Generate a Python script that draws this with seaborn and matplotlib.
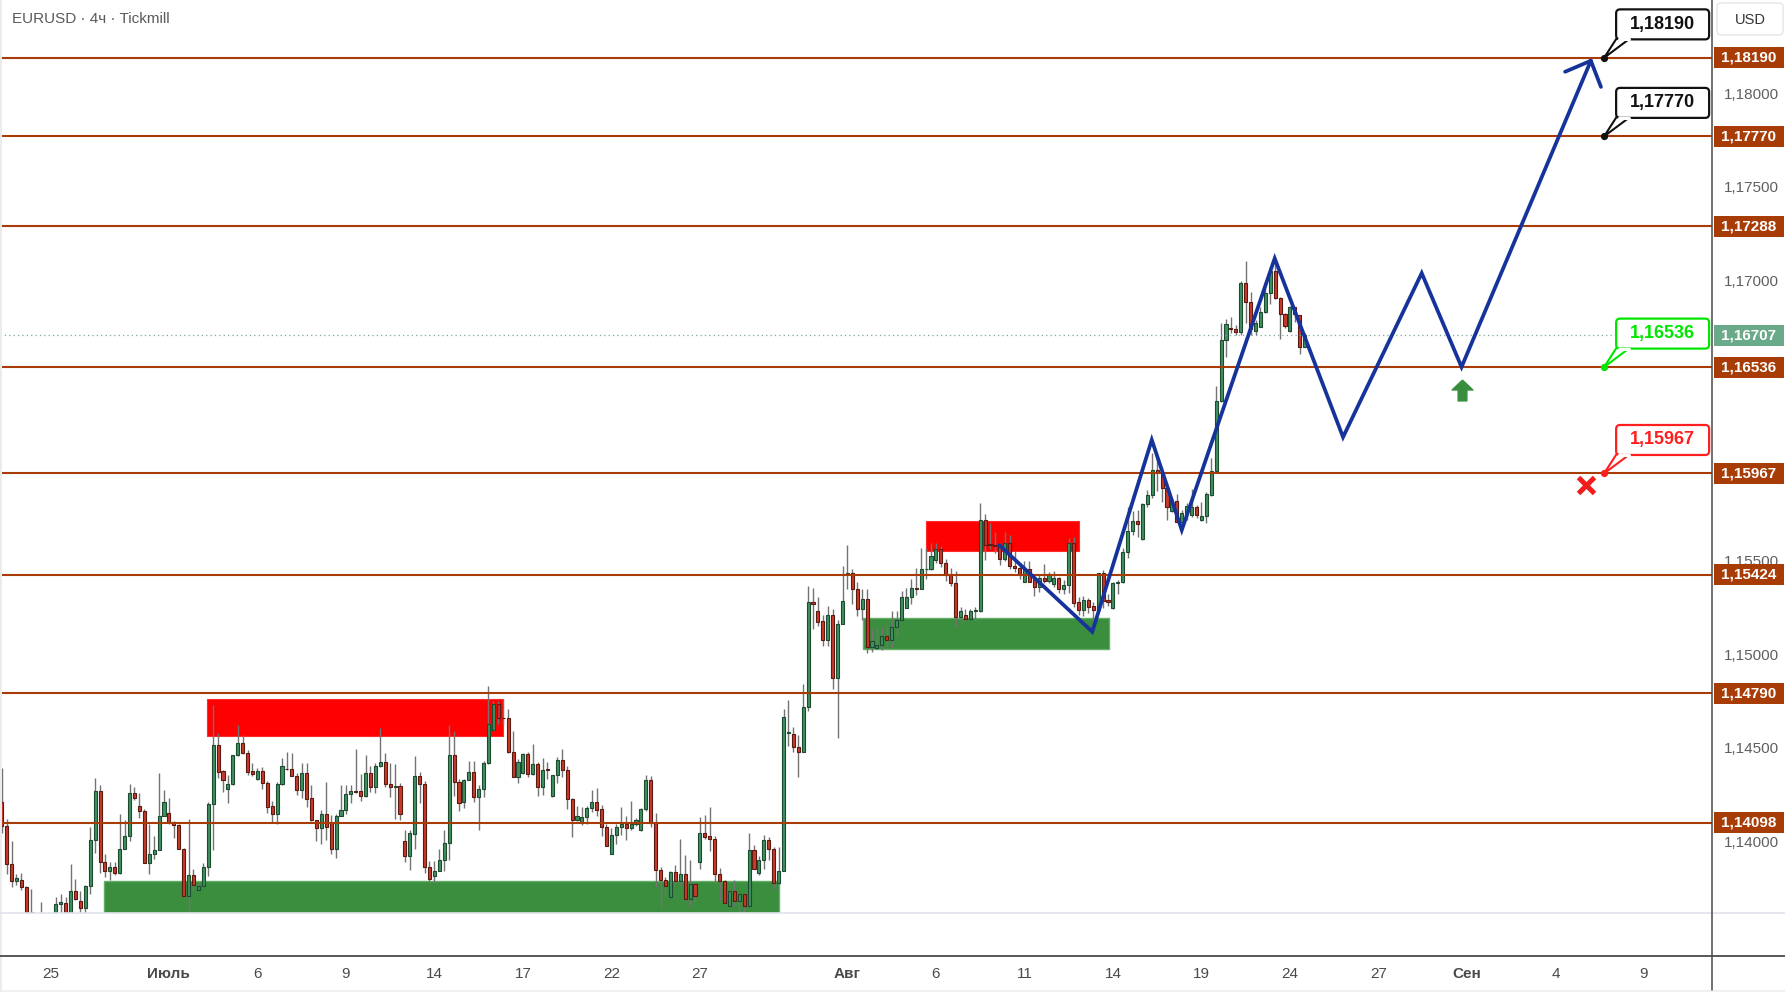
import numpy as np
import pandas as pd
import matplotlib
matplotlib.use("Agg")
import matplotlib.pyplot as plt
import matplotlib.transforms as mtrans
from matplotlib.patches import Rectangle, FancyBboxPatch, Polygon
from matplotlib.lines import Line2D
from matplotlib.path import Path
import seaborn as sns

# ---------------- data (EURUSD 4h candles) ----------------
opens = [
    1.14207, 1.14080, 1.13880, 1.13788, 1.13790, 1.13756, 1.13622, 1.13570, 1.13550, 1.13580,
    1.13560, 1.13560, 1.13665, 1.13670, 1.13590, 1.13735, 1.13681, 1.13642, 1.13761, 1.14008,
    1.14266, 1.13889, 1.13838, 1.13864, 1.13829, 1.13960, 1.14025, 1.14256, 1.14186, 1.14159,
    1.13885, 1.13930, 1.13955, 1.14137, 1.14148, 1.14100, 1.14084, 1.13960, 1.13708, 1.13821,
    1.13740, 1.13761, 1.13862, 1.14196, 1.14513, 1.14374, 1.14277, 1.14304, 1.14460, 1.14524,
    1.14470, 1.14374, 1.14331, 1.14374, 1.14309, 1.14186, 1.14146, 1.14304, 1.14385, 1.14384,
    1.14350, 1.14275, 1.14363, 1.14230, 1.14111, 1.14071, 1.14143, 1.14098, 1.13958, 1.14137,
    1.14166, 1.14250, 1.14266, 1.14266, 1.14243, 1.14365, 1.14288, 1.14401, 1.14422, 1.14304,
    1.14290, 1.14293, 1.14003, 1.13921, 1.14040, 1.14347, 1.14304, 1.13862, 1.13813, 1.13842,
    1.13901, 1.13992, 1.14460, 1.14315, 1.14207, 1.14327, 1.14368, 1.14238, 1.14277, 1.14417,
    1.14592, 1.14733, 1.14658, 1.14656, 1.14476, 1.14345, 1.14363, 1.14467, 1.14358, 1.14411,
    1.14288, 1.14384, 1.14243, 1.14352, 1.14435, 1.14379, 1.14223, 1.14114, 1.14100, 1.14127,
    1.14177, 1.14207, 1.14170, 1.14078, 1.13933, 1.14035, 1.14078, 1.14093, 1.14071, 1.14091,
    1.14060, 1.14170, 1.14327, 1.14098, 1.13847, 1.13794, 1.13702, 1.13837, 1.13788, 1.13826,
    1.13690, 1.13772, 1.13889, 1.14041, 1.14026, 1.14014, 1.13826, 1.13786, 1.13652, 1.13735,
    1.13681, 1.13718, 1.13654, 1.13955, 1.13829, 1.13901, 1.14008, 1.13960, 1.13778, 1.13842,
    1.14578, 1.14575, 1.14504, 1.14477, 1.14720, 1.15281, 1.15233, 1.15175, 1.15076, 1.15212,
    1.14873, 1.15164, 1.15429, 1.15436, 1.15346, 1.15239, 1.15297, 1.15041, 1.15033, 1.15051,
    1.15099, 1.15078, 1.15144, 1.15185, 1.15249, 1.15308, 1.15356, 1.15349, 1.15453, 1.15453,
    1.15506, 1.15560, 1.15488, 1.15426, 1.15381, 1.15199, 1.15208, 1.15190, 1.15230, 1.15230,
    1.15720, 1.15586, 1.15584, 1.15580, 1.15511, 1.15592, 1.15474, 1.15463, 1.15387, 1.15458,
    1.15403, 1.15360, 1.15408, 1.15393, 1.15375, 1.15406, 1.15349, 1.15368, 1.15593, 1.15278,
    1.15234, 1.15290, 1.15257, 1.15236, 1.15432, 1.15290, 1.15245, 1.15382, 1.15384, 1.15548,
    1.15659, 1.15712, 1.15616, 1.15803, 1.15850, 1.15985, 1.15973, 1.15887, 1.15768, 1.15820,
    1.15709, 1.15757, 1.15743, 1.15789, 1.15718, 1.15739, 1.15852, 1.15980, 1.16354, 1.16680,
    1.16746, 1.16739, 1.16725, 1.16984, 1.16882, 1.16730, 1.16752, 1.16828, 1.16930, 1.17050,
    1.16903, 1.16818, 1.16730, 1.16855, 1.16812, 1.16645,
]
highs = [
    1.14390, 1.14121, 1.14000, 1.13822, 1.13831, 1.13760, 1.13745, 1.13600, 1.13677, 1.13600,
    1.13590, 1.13700, 1.13718, 1.13700, 1.13876, 1.13799, 1.13735, 1.13765, 1.14075, 1.14336,
    1.14300, 1.13930, 1.13889, 1.13889, 1.14145, 1.14112, 1.14306, 1.14290, 1.14259, 1.14170,
    1.14094, 1.14026, 1.14365, 1.14273, 1.14232, 1.14107, 1.14091, 1.13962, 1.14118, 1.13853,
    1.13772, 1.13883, 1.14211, 1.14730, 1.14578, 1.14381, 1.14354, 1.14462, 1.14622, 1.14569,
    1.14488, 1.14417, 1.14392, 1.14395, 1.14322, 1.14214, 1.14316, 1.14443, 1.14479, 1.14472,
    1.14363, 1.14418, 1.14418, 1.14300, 1.14113, 1.14166, 1.14316, 1.14141, 1.14143, 1.14300,
    1.14298, 1.14298, 1.14494, 1.14359, 1.14461, 1.14402, 1.14417, 1.14606, 1.14472, 1.14417,
    1.14413, 1.14311, 1.14059, 1.14059, 1.14456, 1.14370, 1.14322, 1.13892, 1.13892, 1.13960,
    1.14059, 1.14622, 1.14590, 1.14333, 1.14334, 1.14426, 1.14426, 1.14298, 1.14426, 1.14828,
    1.14748, 1.14748, 1.14762, 1.14708, 1.14590, 1.14440, 1.14469, 1.14479, 1.14520, 1.14424,
    1.14443, 1.14424, 1.14354, 1.14451, 1.14494, 1.14402, 1.14232, 1.14188, 1.14182, 1.14188,
    1.14273, 1.14284, 1.14191, 1.14094, 1.14068, 1.14094, 1.14182, 1.14134, 1.14214, 1.14123,
    1.14177, 1.14354, 1.14347, 1.14150, 1.13860, 1.13806, 1.13840, 1.13871, 1.14010, 1.13924,
    1.13901, 1.13779, 1.14128, 1.14139, 1.14182, 1.14030, 1.13858, 1.13794, 1.13737, 1.13794,
    1.13720, 1.13720, 1.14046, 1.13978, 1.13919, 1.14032, 1.14021, 1.13967, 1.13969, 1.14708,
    1.14753, 1.14609, 1.14566, 1.14839, 1.15362, 1.15353, 1.15305, 1.15208, 1.15256, 1.15244,
    1.15185, 1.15470, 1.15583, 1.15453, 1.15385, 1.15347, 1.15347, 1.15140, 1.15144, 1.15144,
    1.15164, 1.15230, 1.15230, 1.15337, 1.15353, 1.15401, 1.15463, 1.15567, 1.15567, 1.15592,
    1.15593, 1.15579, 1.15511, 1.15463, 1.15444, 1.15253, 1.15240, 1.15240, 1.15253, 1.15809,
    1.15750, 1.15700, 1.15652, 1.15592, 1.15652, 1.15636, 1.15551, 1.15485, 1.15497, 1.15497,
    1.15431, 1.15426, 1.15481, 1.15441, 1.15445, 1.15415, 1.15397, 1.15623, 1.15629, 1.15307,
    1.15311, 1.15299, 1.15281, 1.15436, 1.15450, 1.15322, 1.15388, 1.15397, 1.15566, 1.15789,
    1.15768, 1.15771, 1.15807, 1.15878, 1.16074, 1.16065, 1.16003, 1.15896, 1.15833, 1.15857,
    1.15771, 1.15807, 1.15882, 1.15798, 1.15816, 1.15869, 1.16051, 1.16436, 1.16770, 1.16793,
    1.16802, 1.16761, 1.16998, 1.17103, 1.16939, 1.16787, 1.16859, 1.16957, 1.17073, 1.17105,
    1.16912, 1.16823, 1.16862, 1.16859, 1.16814, 1.16720,
]
lows = [
    1.14041, 1.13826, 1.13754, 1.13763, 1.13736, 1.13600, 1.13540, 1.13500, 1.13500, 1.13520,
    1.13500, 1.13520, 1.13600, 1.13560, 1.13570, 1.13683, 1.13600, 1.13600, 1.13718, 1.13937,
    1.13829, 1.13808, 1.13790, 1.13821, 1.13826, 1.13958, 1.14001, 1.14220, 1.14123, 1.13883,
    1.13826, 1.13906, 1.13953, 1.14135, 1.14094, 1.14017, 1.13957, 1.13700, 1.13600, 1.13733,
    1.13736, 1.13759, 1.13813, 1.13955, 1.14340, 1.14261, 1.14205, 1.14300, 1.14458, 1.14467,
    1.14354, 1.14349, 1.14329, 1.14277, 1.14153, 1.14103, 1.14089, 1.14302, 1.14383, 1.14348,
    1.14247, 1.14230, 1.14184, 1.14109, 1.14000, 1.13987, 1.14008, 1.13933, 1.13912, 1.14135,
    1.14146, 1.14202, 1.14259, 1.14216, 1.14238, 1.14264, 1.14259, 1.14399, 1.14291, 1.14234,
    1.14118, 1.14112, 1.13889, 1.13847, 1.13960, 1.14202, 1.13829, 1.13776, 1.13776, 1.13840,
    1.13842, 1.13901, 1.14243, 1.14162, 1.14179, 1.14325, 1.14207, 1.14059, 1.14238, 1.14415,
    1.14590, 1.14626, 1.14622, 1.14474, 1.14343, 1.14313, 1.14358, 1.14345, 1.14356, 1.14243,
    1.14248, 1.14334, 1.14238, 1.14313, 1.14345, 1.14173, 1.14023, 1.14107, 1.14085, 1.14089,
    1.14157, 1.14136, 1.14028, 1.13974, 1.13931, 1.13987, 1.14032, 1.14008, 1.14060, 1.14082,
    1.14055, 1.14161, 1.14073, 1.13754, 1.13643, 1.13708, 1.13697, 1.13763, 1.13765, 1.13674,
    1.13647, 1.13674, 1.13851, 1.14012, 1.13948, 1.13769, 1.13686, 1.13666, 1.13650, 1.13654,
    1.13580, 1.13580, 1.13652, 1.13851, 1.13817, 1.13851, 1.13901, 1.13745, 1.13769, 1.13840,
    1.14507, 1.14477, 1.14343, 1.14475, 1.14697, 1.15135, 1.15151, 1.15044, 1.15044, 1.14812,
    1.14552, 1.15162, 1.15351, 1.15267, 1.15205, 1.15182, 1.15007, 1.15012, 1.15030, 1.15021,
    1.15039, 1.15033, 1.15092, 1.15183, 1.15247, 1.15271, 1.15315, 1.15347, 1.15403, 1.15451,
    1.15488, 1.15467, 1.15390, 1.15363, 1.15146, 1.15173, 1.15173, 1.15187, 1.15178, 1.15228,
    1.15504, 1.15565, 1.15542, 1.15476, 1.15497, 1.15454, 1.15440, 1.15403, 1.15385, 1.15385,
    1.15312, 1.15330, 1.15380, 1.15379, 1.15361, 1.15325, 1.15322, 1.15325, 1.15254, 1.15209,
    1.15204, 1.15218, 1.15165, 1.15227, 1.15245, 1.15258, 1.15240, 1.15322, 1.15379, 1.15513,
    1.15637, 1.15628, 1.15611, 1.15789, 1.15833, 1.15873, 1.15816, 1.15718, 1.15762, 1.15707,
    1.15700, 1.15718, 1.15736, 1.15727, 1.15712, 1.15703, 1.15846, 1.15976, 1.16351, 1.16588,
    1.16716, 1.16707, 1.16707, 1.16770, 1.16707, 1.16707, 1.16748, 1.16826, 1.16871, 1.16900,
    1.16688, 1.16743, 1.16725, 1.16778, 1.16606, 1.16641,
]
closes = [
    1.14080, 1.13880, 1.13788, 1.13804, 1.13756, 1.13622, 1.13570, 1.13550, 1.13580, 1.13560,
    1.13540, 1.13665, 1.13672, 1.13590, 1.13735, 1.13688, 1.13642, 1.13761, 1.14008, 1.14266,
    1.13889, 1.13840, 1.13864, 1.13829, 1.13960, 1.14025, 1.14256, 1.14232, 1.14159, 1.13885,
    1.13933, 1.13955, 1.14137, 1.14207, 1.14100, 1.14084, 1.13960, 1.13708, 1.13821, 1.13767,
    1.13761, 1.13862, 1.14196, 1.14513, 1.14372, 1.14325, 1.14304, 1.14460, 1.14524, 1.14470,
    1.14372, 1.14358, 1.14374, 1.14309, 1.14184, 1.14146, 1.14304, 1.14401, 1.14384, 1.14350,
    1.14275, 1.14363, 1.14227, 1.14111, 1.14071, 1.14143, 1.14075, 1.13958, 1.14137, 1.14164,
    1.14250, 1.14266, 1.14263, 1.14243, 1.14365, 1.14291, 1.14401, 1.14422, 1.14304, 1.14288,
    1.14292, 1.14146, 1.13921, 1.14043, 1.14347, 1.14304, 1.13862, 1.13797, 1.13842, 1.13901,
    1.13992, 1.14460, 1.14315, 1.14202, 1.14327, 1.14368, 1.14238, 1.14277, 1.14417, 1.14626,
    1.14733, 1.14658, 1.14656, 1.14476, 1.14345, 1.14422, 1.14467, 1.14358, 1.14411, 1.14288,
    1.14381, 1.14379, 1.14352, 1.14435, 1.14379, 1.14223, 1.14114, 1.14132, 1.14127, 1.14177,
    1.14207, 1.14168, 1.14078, 1.13976, 1.14035, 1.14078, 1.14093, 1.14071, 1.14091, 1.14111,
    1.14170, 1.14327, 1.14098, 1.13847, 1.13794, 1.13761, 1.13837, 1.13788, 1.13826, 1.13690,
    1.13772, 1.13706, 1.14041, 1.14023, 1.14012, 1.13826, 1.13786, 1.13668, 1.13735, 1.13681,
    1.13718, 1.13654, 1.13955, 1.13853, 1.13901, 1.14008, 1.13960, 1.13778, 1.13842, 1.14664,
    1.14580, 1.14504, 1.14477, 1.14720, 1.15281, 1.15271, 1.15173, 1.15076, 1.15212, 1.14873,
    1.15164, 1.15287, 1.15436, 1.15346, 1.15239, 1.15297, 1.15041, 1.15073, 1.15051, 1.15099,
    1.15078, 1.15144, 1.15185, 1.15308, 1.15308, 1.15356, 1.15349, 1.15453, 1.15455, 1.15527,
    1.15560, 1.15488, 1.15426, 1.15381, 1.15199, 1.15230, 1.15189, 1.15230, 1.15232, 1.15720,
    1.15586, 1.15584, 1.15580, 1.15511, 1.15592, 1.15474, 1.15463, 1.15428, 1.15449, 1.15387,
    1.15360, 1.15408, 1.15392, 1.15423, 1.15406, 1.15349, 1.15368, 1.15593, 1.15275, 1.15236,
    1.15290, 1.15254, 1.15236, 1.15432, 1.15286, 1.15281, 1.15379, 1.15384, 1.15548, 1.15659,
    1.15712, 1.15694, 1.15803, 1.15850, 1.15985, 1.15973, 1.15887, 1.15785, 1.15819, 1.15709,
    1.15757, 1.15793, 1.15789, 1.15743, 1.15739, 1.15857, 1.15980, 1.16354, 1.16680, 1.16764,
    1.16739, 1.16725, 1.16984, 1.16882, 1.16741, 1.16770, 1.16828, 1.16930, 1.17050, 1.16903,
    1.16818, 1.16757, 1.16855, 1.16820, 1.16645, 1.16707,
]

levels = [1.18190, 1.17770, 1.17288, 1.16536, 1.15967, 1.15424, 1.14790, 1.14098]
last_price = 1.16707
callout_levels = [1.18190, 1.17770, 1.16536, 1.15967]
callout_colors = ["#111111", "#111111", "#00e600", "#ff1f1f"]
callout_x = 325.9

# scale ticks that are not hidden behind the level labels
price_ticks = [1.140, 1.145, 1.150, 1.155, 1.170, 1.175, 1.180]
date_ticks = [10, 34, 52, 70, 88, 106, 124, 142, 172, 190, 208, 226, 244, 262, 280, 298, 316, 334]
date_labels = ["25", "Июль", "6", "9", "14", "17", "22", "27", "Авг", "6", "11", "14",
               "19", "24", "27", "Сен", "4", "9"]
month_labels = ["Июль", "Авг", "Сен"]

# projected path (candle index, price)
path_x = [202.9, 221.8, 233.9, 240.0, 258.9, 272.8, 288.8, 296.9, 323.2]
path_y = [1.15583, 1.15120, 1.16146, 1.15664, 1.17117, 1.16161, 1.17038, 1.16536, 1.18174]

# zones: x0, x1 (candle index), y0, y1 (price)
supply_zones = [(41.8, 101.9, 1.14560, 1.14762), (188.0, 219.1, 1.15552, 1.15711)]
demand_zones = [(20.9, 158.1, 1.13500, 1.13785), (175.1, 225.2, 1.15030, 1.15196)]

buy_arrow = (296.9, 1.16413)
stop_cross = (322.3, 1.15905)

# ---------------- style ----------------
sns.set_theme(style="white")
plt.rcParams["font.family"] = ["Liberation Sans", "DejaVu Sans"]

W, H = 1785, 992
AX_RIGHT = 1712.3
PANE_BOTTOM = 913.3
YMIN, YMAX = 1.13614, 1.18499
XMIN, XMAX = -0.35, 347.9

LEVEL_C = "#a83c06"
BLUE = "#15339a"
UP_FILL, UP_EDGE = "#3f905f", "#1d4a30"
DN_FILL, DN_EDGE = "#c8392a", "#5a1a12"
WICK = "#737373"

fig = plt.figure(figsize=(W / 100, H / 100), dpi=100, facecolor="white")
ax = fig.add_axes([0, (H - PANE_BOTTOM) / H, AX_RIGHT / W, PANE_BOTTOM / H])
ax.set_facecolor("white")
for s in ax.spines.values():
    s.set_visible(False)

df = pd.DataFrame(dict(open=opens, high=highs, low=lows, close=closes))
df["x"] = np.arange(len(df))
df["up"] = df["close"] >= df["open"]
df["bottom"] = df[["open", "close"]].min(axis=1)
df["height"] = (df["close"] - df["open"]).abs().clip(lower=0.00004)

for x0, x1, y0, y1 in supply_zones:
    ax.add_patch(Rectangle((x0, y0), x1 - x0, y1 - y0, fc="#ff0000", ec="#ff2a2a", lw=0.8, zorder=1))
for x0, x1, y0, y1 in demand_zones:
    ax.add_patch(Rectangle((x0, y0), x1 - x0, y1 - y0, fc="#3a8e3e", ec="#62b066", lw=1.0, zorder=1))

ax.vlines(df["x"], df["low"], df["high"], color=WICK, lw=1.0, zorder=2)
for up, fc, ec in [(True, UP_FILL, UP_EDGE), (False, DN_FILL, DN_EDGE)]:
    d = df[df["up"] == up]
    ax.bar(d["x"], d["height"], bottom=d["bottom"], width=0.62, color=fc,
           edgecolor=ec, linewidth=0.8, zorder=3)

for lv in levels:
    ax.axhline(lv, color=LEVEL_C, lw=1.5, zorder=4)
ax.axhline(last_price, color="#7aa8a0", lw=0.9, ls=(0, (1, 2.5)), zorder=4)

sns.lineplot(x=path_x, y=path_y, sort=False, estimator=None, color=BLUE, linewidth=2.7,
             ax=ax, zorder=6, legend=False, solid_joinstyle="miter", solid_capstyle="round")

arrow_path = Path([(0, 1), (1, 0.05), (0.42, 0.05), (0.42, -1), (-0.42, -1),
                   (-0.42, 0.05), (-1, 0.05), (0, 1)])
ax.plot([buy_arrow[0]], [buy_arrow[1]], marker=arrow_path, ms=15, color="#388e3c",
        mec="#388e3c", ls="none", zorder=7)
ax.plot([stop_cross[0]], [stop_cross[1]], marker="x", ms=11.5, mew=3.6, color="#f01d1d",
        ls="none", zorder=7)

ax.set_xlim(XMIN, XMAX)
ax.set_ylim(YMIN, YMAX)
ax.set_xticks([])
ax.yaxis.tick_right()
ax.set_yticks(price_ticks)
ax.set_yticklabels([f"{v:.5f}".replace(".", ",") for v in price_ticks])
ax.tick_params(axis="y", length=0, pad=8.5, labelsize=11, labelcolor="#5f5f5f")

# right-scale level labels
blend = mtrans.blended_transform_factory(ax.transAxes, ax.transData)
px_per_unit = PANE_BOTTOM / (YMAX - YMIN)
lab_h = 21 / px_per_unit
lab_x0 = 1 + 1.5 / AX_RIGHT
lab_w = 70 / AX_RIGHT
for lv, fc in [(v, LEVEL_C) for v in levels] + [(last_price, "#6aa989")]:
    ax.add_patch(Rectangle((lab_x0, lv - lab_h / 2), lab_w, lab_h, transform=blend,
                           fc=fc, ec="none", clip_on=False, zorder=9))
    ax.text(lab_x0 + lab_w / 2, lv, f"{lv:.5f}".replace(".", ","), transform=blend,
            ha="center", va="center", color="white", fontsize=11, fontweight="bold",
            clip_on=False, zorder=10)

# arrow head at the end of the projected path
ident = mtrans.IdentityTransform()
tip = ax.transData.transform((path_x[-1], path_y[-1]))
prev = ax.transData.transform((path_x[-2], path_y[-2]))
d = prev - tip
d = d / np.hypot(*d)
for ang in (44, -44):
    r = np.deg2rad(ang)
    rot = np.array([[np.cos(r), -np.sin(r)], [np.sin(r), np.cos(r)]])
    arm = tip + 28 * rot @ d
    pt = ax.transData.inverted().transform(arm)
    ax.plot([path_x[-1], pt[0]], [path_y[-1], pt[1]], color=BLUE, lw=2.7,
            solid_capstyle="round", zorder=6)

# callout bubbles
for lv, col in zip(callout_levels, callout_colors):
    dx, dy = ax.transData.transform((callout_x, lv))
    ax.plot([callout_x], [lv], "o", ms=4.2, color=col, zorder=8, clip_on=False)
    left, bottom, bw, bh = dx + 12, dy + 18.4, 93, 30
    fig.add_artist(Polygon([[dx, dy], [left + 0.5, bottom + 1], [left + 14, bottom + 1]],
                           closed=True, transform=ident, fc="white", ec=col, lw=1.5, zorder=8))
    fig.add_artist(FancyBboxPatch((left, bottom), bw, bh, boxstyle="round,pad=0,rounding_size=4",
                                  transform=ident, fc="white", ec=col, lw=1.6, zorder=9))
    fig.add_artist(Line2D([left + 2.5, left + 12.5], [bottom, bottom], color="white", lw=2.2,
                          transform=ident, zorder=10))
    fig.text((left + bw / 2) / W, (bottom + bh / 2) / H, f"{lv:.5f}".replace(".", ","),
             ha="center", va="center", fontsize=13, fontweight="bold", color=col, zorder=11)

# time scale
blend_t = mtrans.blended_transform_factory(ax.transData, fig.transFigure)
for pos, lab in zip(date_ticks, date_labels):
    ax.text(pos, (H - 974) / H, lab, transform=blend_t, ha="center", va="center",
            fontsize=11, color="#4a4a4a", clip_on=False,
            fontweight="bold" if lab in month_labels else "normal")

# frame lines
fig.add_artist(Line2D([0, 1], [(H - PANE_BOTTOM) / H] * 2, color="#e0e3eb", lw=1.2,
                      transform=fig.transFigure))
fig.add_artist(Line2D([0, 1], [(H - 956.3) / H] * 2, color="#4a4a4a", lw=1.3,
                      transform=fig.transFigure))
fig.add_artist(Line2D([AX_RIGHT / W] * 2, [2 / H, 1], color="#4a4a4a", lw=1.1,
                      transform=fig.transFigure))
fig.add_artist(Rectangle((0, 0), W, 2, transform=ident, fc="#eef0f4", ec="none"))
fig.add_artist(Rectangle((0, 0), 2, H, transform=ident, fc="#ececec", ec="none"))

# USD box and title
fig.add_artist(FancyBboxPatch((1717, H - 35), 66, 32, boxstyle="round,pad=0,rounding_size=4",
                              transform=ident, fc="white", ec="#e3e5ea", lw=1.0))
fig.text(1750 / W, (H - 19.5) / H, "USD", ha="center", va="center", fontsize=10.5, color="#333333")
fig.text(11.7 / W, (H - 19) / H, "EURUSD · 4ч · Tickmill", ha="left", va="center",
         fontsize=11, color="#5a5a5a")

fig.savefig("out.png", dpi=100, facecolor="white")
